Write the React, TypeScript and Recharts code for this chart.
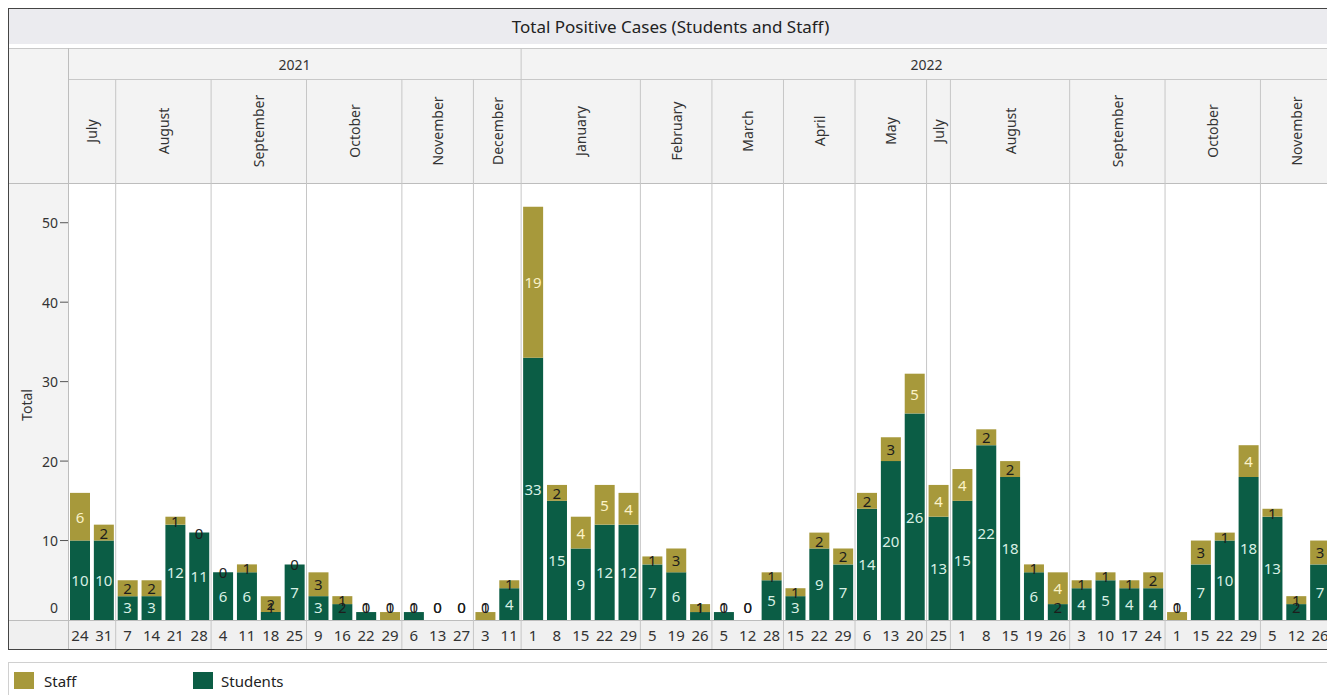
import React from 'react';
import { ComposedChart, Bar, Line, XAxis, YAxis, LabelList } from 'recharts';

// one entry per week bar, left to right
const years = [
  '2021', '2021', '2021', '2021', '2021', '2021', '2021', '2021', '2021', '2021',
  '2021', '2021', '2021', '2021', '2021', '2021', '2021', '2021', '2021',
  '2022', '2022', '2022', '2022', '2022', '2022', '2022', '2022', '2022', '2022',
  '2022', '2022', '2022', '2022', '2022', '2022', '2022', '2022', '2022', '2022',
  '2022', '2022', '2022', '2022', '2022', '2022', '2022', '2022', '2022', '2022',
  '2022', '2022', '2022', '2022',
];
const months = [
  'July', 'July',
  'August', 'August', 'August', 'August',
  'September', 'September', 'September', 'September',
  'October', 'October', 'October', 'October',
  'November', 'November', 'November',
  'December', 'December',
  'January', 'January', 'January', 'January', 'January',
  'February', 'February', 'February',
  'March', 'March', 'March',
  'April', 'April', 'April',
  'May', 'May', 'May',
  'July',
  'August', 'August', 'August', 'August', 'August',
  'September', 'September', 'September', 'September',
  'October', 'October', 'October', 'October',
  'November', 'November', 'November',
];
const days = [
  24, 31, 7, 14, 21, 28, 4, 11, 18, 25, 9, 16, 22, 29, 6, 13, 27, 3, 11,
  1, 8, 15, 22, 29, 5, 19, 26, 5, 12, 28, 15, 22, 29, 6, 13, 20, 25,
  1, 8, 15, 19, 26, 3, 10, 17, 24, 1, 15, 22, 29, 5, 12, 26,
];
const students = [
  10, 10, 3, 3, 12, 11, 6, 6, 1, 7, 3, 2, 1, 0, 1, 0, 0, 0, 4,
  33, 15, 9, 12, 12, 7, 6, 1, 1, 0, 5, 3, 9, 7, 14, 20, 26, 13,
  15, 22, 18, 6, 2, 4, 5, 4, 4, 0, 7, 10, 18, 13, 2, 7,
];
const staff = [
  6, 2, 2, 2, 1, 0, 0, 1, 2, 0, 3, 1, 0, 1, 0, 0, 0, 1, 1,
  19, 2, 4, 5, 4, 1, 3, 1, 0, 0, 1, 1, 2, 2, 2, 3, 5, 4,
  4, 2, 2, 1, 4, 1, 1, 1, 2, 1, 3, 1, 4, 1, 1, 3,
];
const yTicks = [0, 10, 20, 30, 40, 50];

// label anchors sit in the middle of each stacked segment
const data = days.map((d, i) => ({
  key: `${years[i]}-${months[i]}-${d}`,
  Students: students[i],
  Staff: staff[i],
  studentsMid: students[i] / 2,
  staffMid: students[i] + staff[i] / 2,
}));

const STUDENTS_COLOR = '#0b5d45';
const STAFF_COLOR = '#a7993b';
const FONT = '"Noto Sans", "Open Sans", sans-serif';

const W = 1325;
const H = 642;
const PLOT_LEFT = 60;
const PLOT_RIGHT = 1324;
const PLOT_TOP = 175;
const PLOT_BOTTOM = 612;
const BAND = (PLOT_RIGHT - PLOT_LEFT) / days.length;
const DIVIDER = '#c6c6c6';

const HeaderTick = (props: any) => {
  const { x, index } = props;
  const left = x - BAND / 2;
  const monthStart = index === 0 || months[index] !== months[index - 1] || years[index] !== years[index - 1];
  const yearStart = index === 0 || years[index] !== years[index - 1];
  if (!monthStart) return <g />;
  let mCount = 1;
  while (index + mCount < months.length && months[index + mCount] === months[index]
    && years[index + mCount] === years[index]) mCount++;
  const mCenter = left + (mCount * BAND) / 2;
  let yearLabel = null;
  if (yearStart) {
    let n = 1;
    while (index + n < years.length && years[index + n] === years[index]) n++;
    yearLabel = (
      <text x={left + (n * BAND) / 2} y={56} textAnchor="middle" dominantBaseline="central"
        fontSize={14} fill="#333" fontFamily={FONT}>{years[index]}</text>
    );
  }
  return (
    <g>
      {index > 0 && (
        <line x1={left} x2={left} y1={yearStart ? 40 : 71} y2={H} stroke={DIVIDER} strokeWidth={1} />
      )}
      {yearLabel}
      <text x={mCenter} y={123} textAnchor="middle" dominantBaseline="central" fontSize={14}
        fill="#333" fontFamily={FONT} transform={`rotate(-90, ${mCenter}, 123)`}>{months[index]}</text>
    </g>
  );
};

const DayTick = (props: any) => {
  const { x, index } = props;
  return (
    <text x={x} y={627} textAnchor="middle" dominantBaseline="central" fontSize={15}
      fill="#333" fontFamily={FONT}>{days[index]}</text>
  );
};

const ValueTick = (props: any) => {
  const { y, payload } = props;
  if (payload.value === 0) {
    return (
      <text x={50} y={PLOT_BOTTOM - 13} textAnchor="end" dominantBaseline="central" fontSize={14}
        fill="#333" fontFamily={FONT}>0</text>
    );
  }
  return (
    <g>
      <text x={50} y={y} textAnchor="end" dominantBaseline="central" fontSize={14}
        fill="#333" fontFamily={FONT}>{payload.value}</text>
      <line x1={52} x2={PLOT_LEFT} y1={y} y2={y} stroke="#555" strokeWidth={1} />
    </g>
  );
};

const makeLabel = (light: string, threshold: number) => (props: any) => {
  const { x, y, value } = props;
  let cy = Number(y);
  if (cy > PLOT_BOTTOM - 13) cy = PLOT_BOTTOM - 13;
  const fill = Number(value) >= threshold ? light : '#1d1d1d';
  return (
    <text x={Number(x)} y={cy} textAnchor="middle" dominantBaseline="central" fontSize={15}
      fill={fill} fontFamily={FONT}>{value}</text>
  );
};

const abs = (style: React.CSSProperties): React.CSSProperties => ({ position: 'absolute', ...style });

export default function App() {
  return (
    <div style={{ fontFamily: FONT, width: W, height: 687, overflow: 'hidden' }}>
      <style>{'html, body { overflow: hidden; }'}</style>
      <div style={{ position: 'relative', width: W, height: H, background: '#f3f3f3' }}>
        <div style={abs({ left: 0, top: 0, width: W, height: 36, background: '#ebebef', display: 'flex',
          alignItems: 'center', justifyContent: 'center', fontSize: 17, color: '#222' })}>
          Total Positive Cases (Students and Staff)
        </div>
        <div style={abs({ left: 0, top: 36, width: W, height: 4, background: '#fff' })} />
        <div style={abs({ left: 0, top: 40, width: W, height: 1, background: '#c8c8c8' })} />
        <div style={abs({ left: PLOT_LEFT, top: 71, width: W - PLOT_LEFT, height: 1, background: '#c8c8c8' })} />
        <div style={abs({ left: PLOT_LEFT, top: PLOT_TOP, width: PLOT_RIGHT - PLOT_LEFT, height: PLOT_BOTTOM - PLOT_TOP, background: '#fff' })} />
        <div style={abs({ left: 0, top: PLOT_TOP, width: W, height: 1, background: '#bdbdbd' })} />
        <div style={abs({ left: 0, top: PLOT_BOTTOM, width: W, height: H - PLOT_BOTTOM, background: '#f0f0f0', borderTop: '1px solid #bdbdbd', boxSizing: 'border-box' })} />
        <div style={abs({ left: PLOT_LEFT, top: 40, width: 1, height: H - 40, background: '#bdbdbd' })} />
        <div style={abs({ left: 18, top: 397, transform: 'translate(-50%, -50%) rotate(-90deg)', fontSize: 14, color: '#333' })}>
          Total
        </div>
        <div style={abs({ left: 0, top: 0 })}>
          <ComposedChart width={W} height={H} data={data} margin={{ top: 41, right: 1, bottom: 0, left: 0 }}>
            <XAxis xAxisId={0} dataKey="key" type="category" orientation="bottom" height={30}
              interval={0} tickLine={false} axisLine={false} tick={DayTick} />
            <XAxis xAxisId="top" dataKey="key" type="category" orientation="top" height={134}
              interval={0} tickLine={false} axisLine={false} tick={HeaderTick} />
            <YAxis type="number" domain={[0, 55]} ticks={yTicks} width={60} interval={0}
              tickLine={false} axisLine={false} tick={ValueTick} />
            <Bar dataKey="Students" stackId="cases" fill={STUDENTS_COLOR} barSize={20} isAnimationActive={false} />
            <Bar dataKey="Staff" stackId="cases" fill={STAFF_COLOR} barSize={20} isAnimationActive={false} />
            <Line dataKey="studentsMid" stroke="none" dot={false} activeDot={false} legendType="none"
              isAnimationActive={false}>
              <LabelList dataKey="Students" content={makeLabel('#d8efe4', 3)} />
            </Line>
            <Line dataKey="staffMid" stroke="none" dot={false} activeDot={false} legendType="none"
              isAnimationActive={false}>
              <LabelList dataKey="Staff" content={makeLabel('#fbf2c6', 4)} />
            </Line>
          </ComposedChart>
        </div>
        <div style={abs({ left: 0, top: 0, width: W, height: H, border: '1px solid #444', boxSizing: 'border-box', pointerEvents: 'none' })} />
      </div>
      <div style={{ marginTop: 12, height: 40, width: W, border: '1px solid #d0d0d0', boxSizing: 'border-box',
        background: '#fff', position: 'relative', fontSize: 15, color: '#222' }}>
        <div style={abs({ left: 5, top: 9, width: 20, height: 17, background: STAFF_COLOR })} />
        <div style={abs({ left: 35, top: 8, lineHeight: '20px' })}>Staff</div>
        <div style={abs({ left: 184, top: 9, width: 20, height: 17, background: STUDENTS_COLOR })} />
        <div style={abs({ left: 212, top: 8, lineHeight: '20px' })}>Students</div>
      </div>
    </div>
  );
}
